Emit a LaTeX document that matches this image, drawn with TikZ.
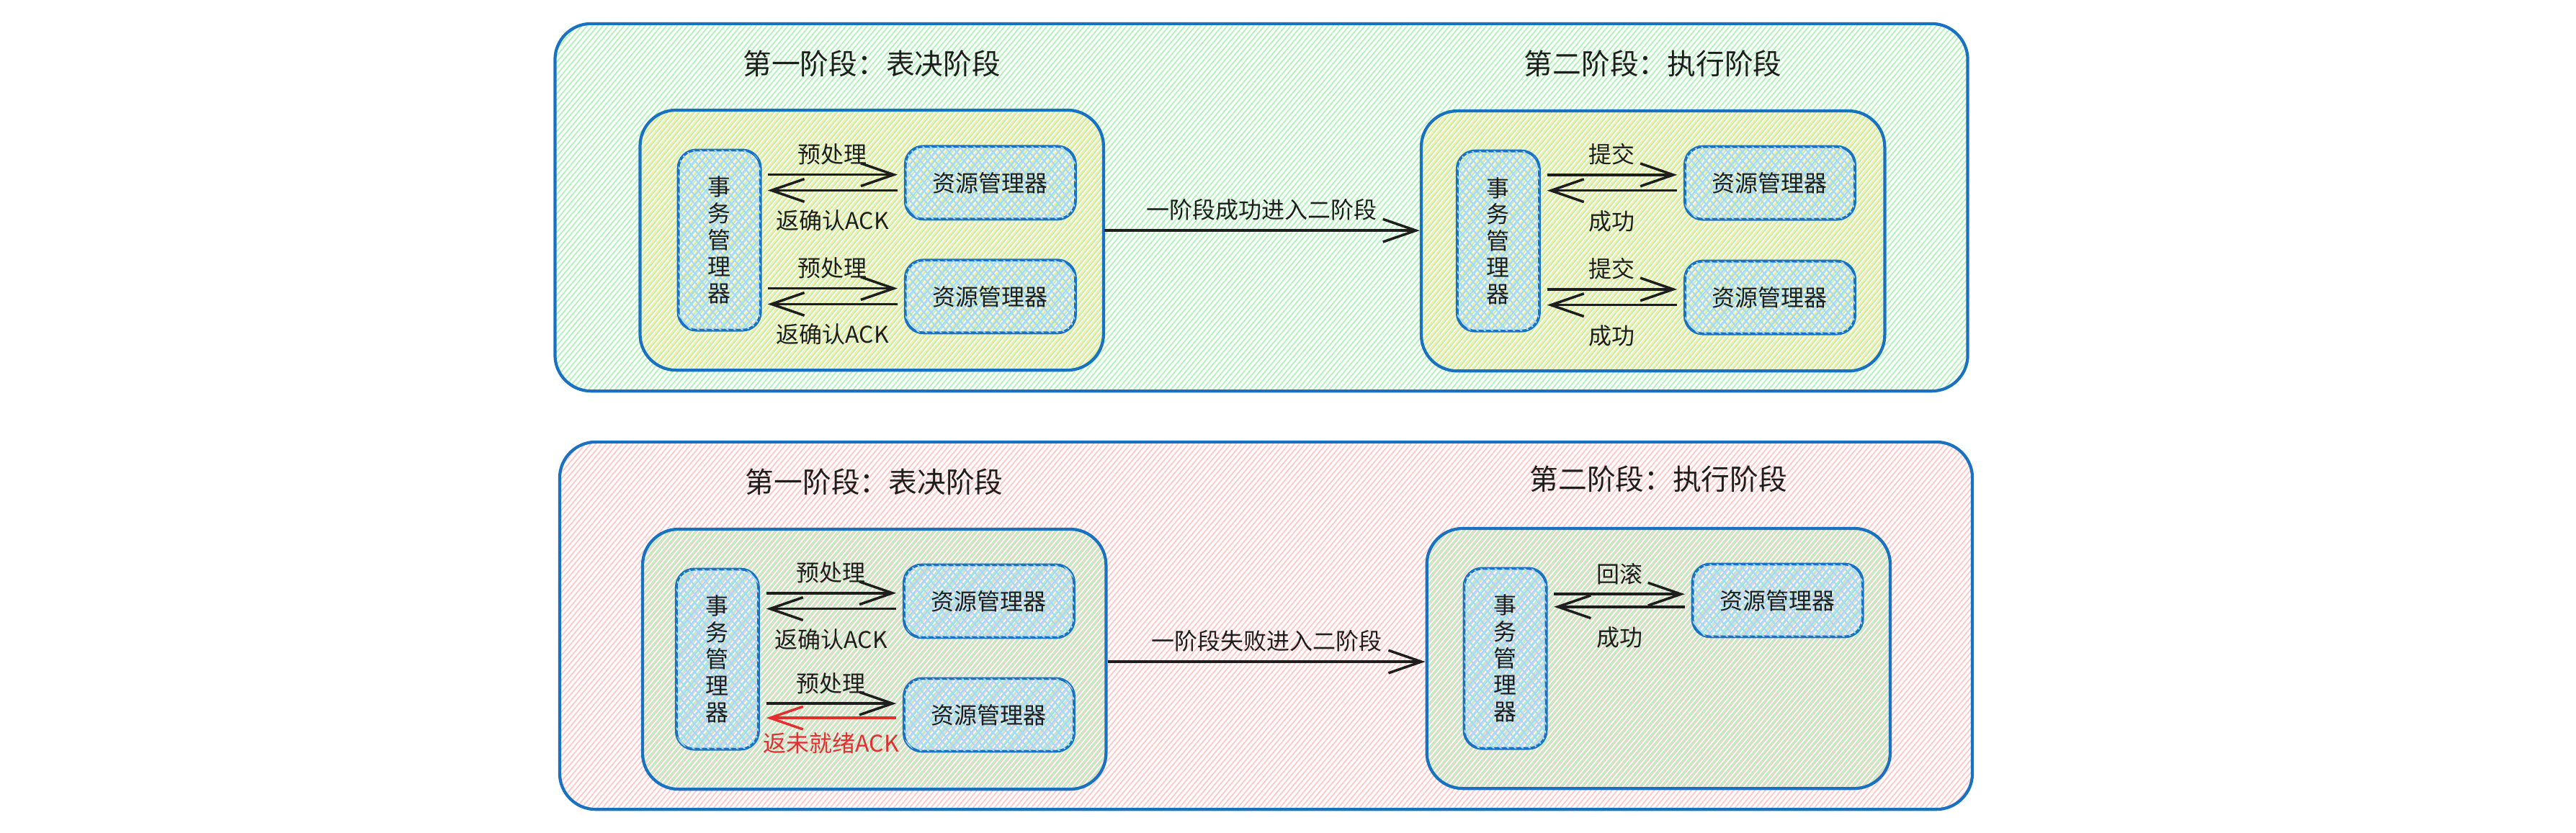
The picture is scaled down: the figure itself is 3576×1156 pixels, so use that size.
\documentclass[tikz,border=0pt]{standalone}
\usepackage{fontspec}
\setmainfont{Noto Sans CJK SC}
\usetikzlibrary{positioning, arrows.meta, patterns.meta}
\definecolor{frameblue}{HTML}{1971C2}
\definecolor{hgreen}{HTML}{B2F2BB}
\definecolor{hyellow}{HTML}{FFEC99}
\definecolor{hred}{HTML}{FFC9C9}
\definecolor{hblue}{HTML}{A5D8FF}
\definecolor{ink}{HTML}{1E1E1E}
\definecolor{failred}{HTML}{E03131}
\tikzstyle{phaseok} = [rectangle, rounded corners=0.5cm, draw=frameblue, line width=1.2pt, minimum width=19.6cm, minimum height=5.1cm, pattern={Lines[angle=50, distance=1.6pt, line width=0.55pt]}, pattern color=hgreen]
\tikzstyle{phasefail} = [phaseok, pattern color=hred]
\tikzstyle{stage} = [rectangle, rounded corners=0.5cm, draw=frameblue, line width=1.2pt, minimum width=6.43cm, minimum height=3.61cm, pattern={Lines[angle=50, distance=1.6pt, yshift=0.8pt, line width=0.55pt]}, pattern color=hyellow]
\tikzstyle{stagegreen} = [stage, pattern color=hgreen]
\tikzstyle{tmbox} = [rectangle, rounded corners=0.25cm, draw=frameblue, line width=1.1pt, minimum width=1.14cm, minimum height=2.5cm, pattern={Lines[angle=50, distance=2.2pt, line width=0.6pt]}, pattern color=hblue, postaction={pattern={Lines[angle=-50, distance=2.2pt, line width=0.6pt]}, pattern color=hblue}, align=center, text=ink, font=\fontsize{9.1}{10.5}\selectfont]
\tikzstyle{rmbox} = [tmbox, minimum width=2.36cm, minimum height=1.01cm, font=\fontsize{9.1}{11}\selectfont]
\tikzstyle{phasetitle} = [text=ink, font=\fontsize{11.3}{13}\selectfont]
\tikzstyle{lbl} = [text=ink, font=\fontsize{9.1}{11}\selectfont]
\tikzstyle{arrow} = [line width=1pt, draw=ink, ->, >={Straight Barb[length=13pt, width=9pt]}, shorten >=2.5pt, shorten <=2.5pt]
\begin{document}
\begin{tikzpicture}[x=0.01cm, y=-0.01cm]
\useasboundingbox (0,0) rectangle (3576,1156);

% phase one succeeds
\node (okframe) [phaseok] at (1751,288) {};
\node (okvote) [stage, below right=1.2cm and 1.18cm of okframe.north west] {};
\node (okexec) [stage, below left=1.2cm and 1.14cm of okframe.north east] {};
\node (okvotetitle) [phasetitle, above=0.33cm of okvote] {第一阶段：表决阶段};
\node (okexectitle) [phasetitle, above=0.33cm of okexec] {第二阶段：执行阶段};
\node (tmA) [tmbox, right=0.53cm of okvote.west] {事\\务\\管\\理\\器};
\node (rmA1) [rmbox, right=1.98cm of tmA.north east, anchor=north west, yshift=0.06cm] {资源管理器};
\node (rmA2) [rmbox, below=0.53cm of rmA1] {资源管理器};
\node (tmB) [tmbox, right=0.5cm of okexec.west] {事\\务\\管\\理\\器};
\node (rmB1) [rmbox, right=1.98cm of tmB.north east, anchor=north west, yshift=0.06cm] {资源管理器};
\node (rmB2) [rmbox, below=0.54cm of rmB1] {资源管理器};

\draw [arrow] ([yshift=3.2pt]rmA1.west -| tmA.east) -- node[above, lbl] (prepA1) {预处理} ([yshift=3.2pt]rmA1.west);
\draw [arrow] ([yshift=-3pt]rmA1.west) -- node[below=4pt, lbl] (ackA1) {返确认ACK} ([yshift=-3pt]rmA1.west -| tmA.east);
\draw [arrow] ([yshift=3.2pt]rmA2.west -| tmA.east) -- node[above, lbl] (prepA2) {预处理} ([yshift=3.2pt]rmA2.west);
\draw [arrow] ([yshift=-3pt]rmA2.west) -- node[below=4pt, lbl] (ackA2) {返确认ACK} ([yshift=-3pt]rmA2.west -| tmA.east);
\draw [arrow] ([yshift=3.2pt]rmB1.west -| tmB.east) -- node[above, lbl] (commitB1) {提交} ([yshift=3.2pt]rmB1.west);
\draw [arrow] ([yshift=-3pt]rmB1.west) -- node[below=4pt, lbl] (doneB1) {成功} ([yshift=-3pt]rmB1.west -| tmB.east);
\draw [arrow] ([yshift=3.2pt]rmB2.west -| tmB.east) -- node[above, lbl] (commitB2) {提交} ([yshift=3.2pt]rmB2.west);
\draw [arrow] ([yshift=-3pt]rmB2.west) -- node[below=4pt, lbl] (doneB2) {成功} ([yshift=-3pt]rmB2.west -| tmB.east);
\draw [arrow, shorten <=0pt, shorten >=0pt] ([yshift=3.8pt]okvote.east) -- node[above, lbl] (okpass) {一阶段成功进入二阶段} ([yshift=3.8pt]okvote.east -| okexec.west);

% phase one fails
\node (failframe) [phasefail] at (1757.5,869) {};
\node (failvote) [stagegreen, below right=1.21cm and 1.15cm of failframe.north west] {};
\node (failexec) [stagegreen, below left=1.2cm and 1.14cm of failframe.north east] {};
\node (failvotetitle) [phasetitle, above=0.33cm of failvote] {第一阶段：表决阶段};
\node (failexectitle) [phasetitle, above=0.36cm of failexec] {第二阶段：执行阶段};
\node (tmC) [tmbox, right=0.47cm of failvote.west] {事\\务\\管\\理\\器};
\node (rmC1) [rmbox, right=1.98cm of tmC.north east, anchor=north west, yshift=0.06cm] {资源管理器};
\node (rmC2) [rmbox, below=0.53cm of rmC1] {资源管理器};
\node (tmD) [tmbox, right=0.52cm of failexec.west] {事\\务\\管\\理\\器};
\node (rmD) [rmbox, right=1.99cm of tmD.north east, anchor=north west, yshift=0.06cm] {资源管理器};

\draw [arrow] ([yshift=3.2pt]rmC1.west -| tmC.east) -- node[above, lbl] (prepC1) {预处理} ([yshift=3.2pt]rmC1.west);
\draw [arrow] ([yshift=-3pt]rmC1.west) -- node[below=4pt, lbl] (ackC1) {返确认ACK} ([yshift=-3pt]rmC1.west -| tmC.east);
\draw [arrow] ([yshift=4.5pt]rmC2.west -| tmC.east) -- node[above, lbl] (prepC2) {预处理} ([yshift=4.5pt]rmC2.west);
\draw [arrow, draw=failred] ([yshift=-1.2pt]rmC2.west) -- node[below=2pt, lbl, text=failred] (nackC2) {返未就绪ACK} ([yshift=-1.2pt]rmC2.west -| tmC.east);
\draw [arrow] ([yshift=2.5pt]rmD.west -| tmD.east) -- node[above, lbl] (rollD) {回滚} ([yshift=2.5pt]rmD.west);
\draw [arrow] ([yshift=-2.5pt]rmD.west) -- node[below=4pt, lbl] (doneD) {成功} ([yshift=-2.5pt]rmD.west -| tmD.east);
\draw [arrow, shorten <=0pt, shorten >=0pt] ([yshift=-1pt]failvote.east) -- node[above, lbl] (failpass) {一阶段失败进入二阶段} ([yshift=-1pt]failvote.east -| failexec.west);
\end{tikzpicture}
\end{document}
